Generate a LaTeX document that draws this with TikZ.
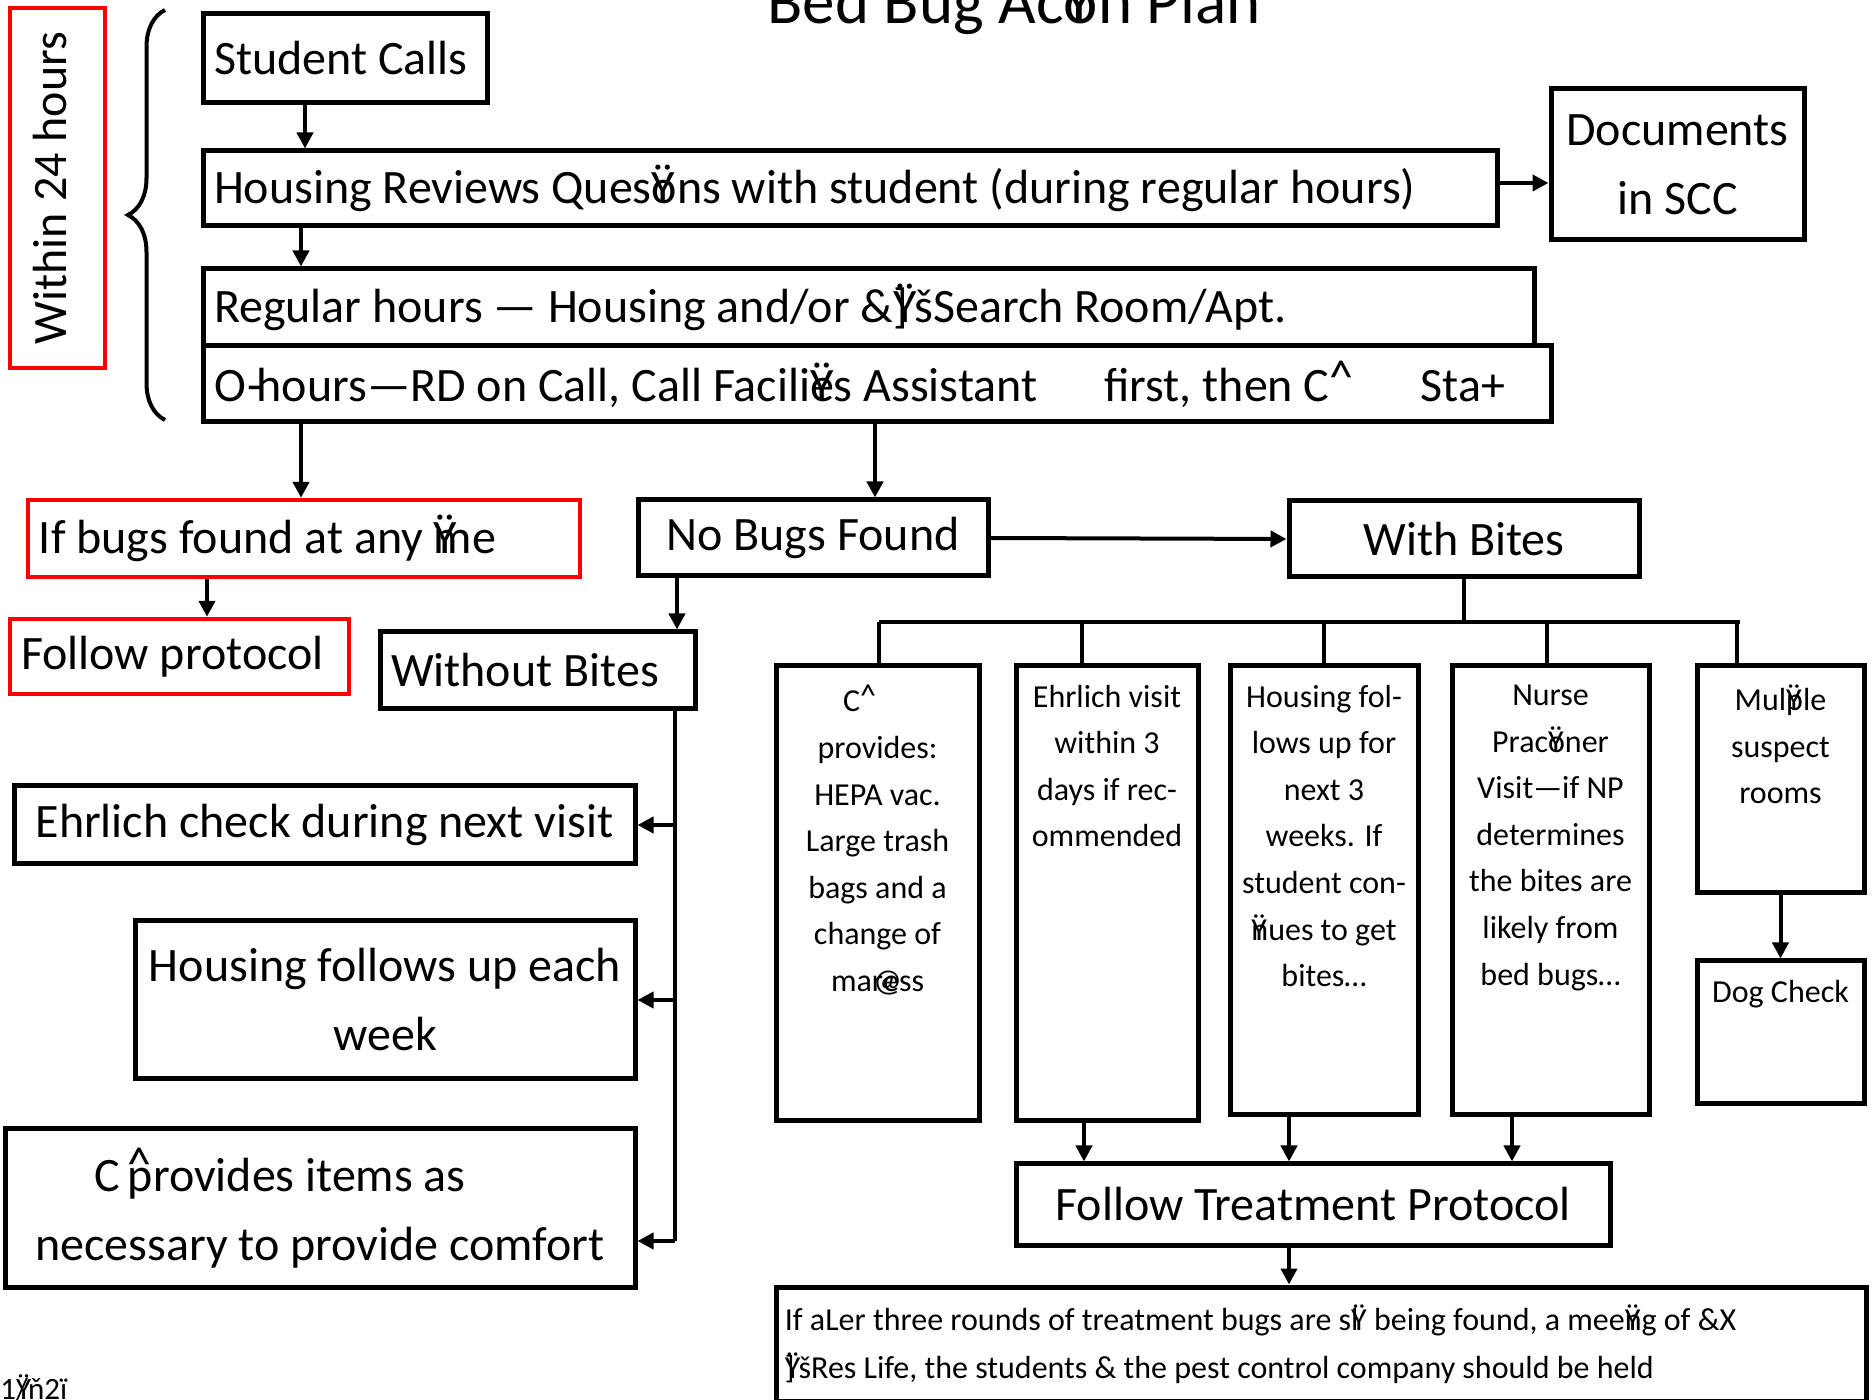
\documentclass[tikz,border=0pt]{standalone}
\usepackage{fontspec}
\setmainfont{Carlito}
\usepackage{tikz}
\usetikzlibrary{arrows.meta,decorations.pathreplacing}
\newcommand\zg[1]{\makebox[0pt][l]{#1}}
\newcommand\tiglyph{\zg{Ÿ}}
\newcommand\garb{\zg{]}Ÿš}
\newcommand\hatc{\raisebox{.35ex}{\textasciicircum}}

\begin{document}
\begin{tikzpicture}[x=0.5pt, y=-0.5pt,
    bigtxt/.style={font=\fontsize{24}{34.5}\selectfont},
    smalltxt/.style={font=\fontsize{16}{23.3}\selectfont},
    box/.style={draw, line width=2.5pt, inner sep=0pt, bigtxt},
    redbox/.style={draw=red, line width=2.2pt, inner sep=0pt, bigtxt},
    padl/.style={align=left, inner xsep=5.5pt, execute at begin node={\spaceskip0pt\xspaceskip0pt}},
    intext/.style={anchor=north, inner sep=0pt, smalltxt, align=center},
    link/.style={line width=2pt},
    arr/.style={link, -{Triangle[width=8pt,length=8pt]}}]
        \useasboundingbox (0,0) rectangle (1876,1400);
        \clip (0,0) rectangle (1876,1400);

        \node[anchor=base, font=\fontsize{32.5}{39}\selectfont] (title) at (1014,24) {Bed Bug Ac\tiglyph on Plan};
        \node[redbox, minimum width=47.5pt, minimum height=180pt] (w24) at (57.5,188) {};
        \node[rotate=90, bigtxt, inner sep=0pt] (w24t) at (50,188) {Within 24 hours};
        \draw[link, decorate, decoration={brace, amplitude=18.5pt}] (165,420) -- (165,10);   % brace

        \node[box, padl, minimum height=44.5pt, text width=131pt]   (calls)  at (345,58.5)   {Student Calls};
        \node[box, padl, minimum height=37.5pt, text width=636pt]   (review) at (850,188.5)  {Housing Reviews Ques\tiglyph ons with student (during regular hours)};
        \node[box, align=center, minimum width=126.5pt, minimum height=75.5pt] (scc) at (1677.5,164.5) {Documents\\in SCC};
        \node[box, padl, minimum height=38.5pt, text width=654.5pt] (reg)    at (868.5,307.5) {Regular hours — Housing and/or \&\garb{}Search Room/Apt.};
        \node[box, padl, minimum height=38pt, text width=663pt]     (off)    at (877,384)     {O \zg{\kern-.2em-}hours—RD on Call, Call Facili\tiglyph es Assistant\hspace{28pt} first, then C\hatc\hspace{28pt} Sta+};

        \node[redbox, padl, minimum height=38.5pt, text width=265pt]  (anytime)  at (304,538.5)   {If bugs found at any \tiglyph me};
        \node[redbox, padl, minimum height=37.5pt, text width=158.5pt] (protocol) at (179.5,656.5) {Follow protocol};
        \node[box, minimum width=175pt, minimum height=38pt]   (nobugs)  at (813,538)   {No Bugs Found};
        \node[box, minimum width=175pt, minimum height=38pt]   (bites)   at (1464,539)  {With Bites};
        \node[box, padl, minimum height=38.5pt, text width=146.5pt] (nobites) at (537.5,670.5) {Without Bites};

        % without bites
        \node[box, minimum width=310.5pt, minimum height=39pt] (ehrlich) at (324.5,825) {Ehrlich check during next visit};
        \node[box, align=center, minimum width=250pt, minimum height=79pt] (weekly) at (385,1000) {Housing follows up each\\week};
        \node[box, align=center, minimum width=315pt, minimum height=79pt] (comfort) at (320,1208) {C\,\zg{\raisebox{.5ex}{\textasciicircum}}provides items as\hspace*{40pt}\\necessary to provide comfort};

        % with bites
        \node[box, minimum width=101.5pt, minimum height=227.5pt] (supply) at (877.5,893.5)  {};
        \node[box, minimum width=91pt,    minimum height=227.5pt] (visit)  at (1107,893.5)   {};
        \node[box, minimum width=94pt,    minimum height=224.5pt] (follow) at (1324,890.5)   {};
        \node[box, minimum width=98.5pt,  minimum height=224.5pt] (nurse)  at (1550.5,890.5) {};
        \node[box, minimum width=83.5pt,  minimum height=113.5pt] (rooms)  at (1780.5,779.5) {};
        \node[box, minimum width=83.5pt,  minimum height=71.5pt]  (dog)    at (1780.5,1032.5) {};
        \node[intext] (supplyt) at ([yshift=-10.5pt]supply.north) {C\hatc\hspace*{18pt}\\provides:\\HEPA vac.\\Large trash\\bags and a\\change of\\mar\zg{\kern-.3em @}ess};
        \node[intext] (visitt)  at ([yshift=-10.5pt]visit.north)  {Ehrlich visit\\within 3\\days if rec-\\ommended};
        \node[intext] (followt) at ([yshift=-10.5pt]follow.north) {Housing fol-\\lows up for\\next 3\\weeks. If\\student con-\\\tiglyph nues to get\\bites…};
        \node[intext] (nurset)  at ([yshift=-10.5pt]nurse.north)  {Nurse\\Prac\tiglyph oner\hspace*{14pt}\\Visit—if NP\\determines\\the bites are\\likely from\\bed bugs…};
        \node[intext] (roomst)  at ([yshift=-10.5pt]rooms.north)  {Mul\tiglyph ple\\suspect\\rooms};
        \node[intext] (dogt)    at ([yshift=-10.5pt]dog.north)    {Dog Check};

        \node[box, minimum width=297pt, minimum height=40.5pt] (treat) at (1313,1204.5) {Follow Treatment Protocol};
        \node[box, minimum width=545pt, minimum height=57pt] (meeting) at (1321,1344) {};
        \node[intext, anchor=north west, align=left, font=\fontsize{16}{24}\selectfont] (meetingt) at ([xshift=5.5pt, yshift=-10pt]meeting.north west)
            {If aLer three rounds of treatment bugs are s\zg{l}Ÿ being found, a mee\zg{Ÿ}ng of \&X\\\garb{}Res Life, the students \& the pest control company should be held};
        \node[anchor=base west, inner sep=0pt, font=\fontsize{15.5}{18}\selectfont] (date) at (0,1399) {1\zg{Ÿ}/ň2ï};

        % connectors
        \draw[arr] (calls.south -| 305,0)   -- (review.north -| 305,0);
        \draw[arr] (review.east |- 0,183)   -- (scc.west |- 0,183);
        \draw[arr] (review.south -| 301,0)  -- (reg.north -| 301,0);
        \draw[arr] (off.south -| 301,0)     -- (anytime.north -| 301,0);
        \draw[arr] (off.south -| 875,0)     -- (nobugs.north -| 875,0);
        \draw[arr] (anytime.south -| 207,0) -- (protocol.north -| 207,0);
        \draw[arr] (nobugs.south -| 677,0)  -- (nobites.north -| 677,0);
        \draw[arr] (nobugs.east) -- (bites.west);

        \coordinate (busl) at (879,622);
        \coordinate (busr) at (1740,622);
        \draw[link] (bites.south) -- (bites.south |- busl);
        \draw[link] (busl) -- (busr);
        \foreach \b/\x in {supply/879, visit/1082, follow/1324, nurse/1547, rooms/1737}
            \draw[link] (\x,622) -- (\b.north -| \x,0);
        \foreach \b/\x in {visit/1084, follow/1289, nurse/1512}
            \draw[arr] (\b.south -| \x,0) -- (treat.north -| \x,0);
        \draw[arr] (treat.south -| 1289,0) -- (meeting.north -| 1289,0);
        \draw[arr] (rooms) -- (dog);

        \coordinate (spine) at (675,1241);
        \draw[link] (nobites.south -| spine) -- (spine);
        \draw[arr] (spine) -- (comfort.east |- spine);
        \draw[arr] (spine |- ehrlich.east) -- (ehrlich.east);
        \draw[arr] (spine |- weekly.east)  -- (weekly.east);
\end{tikzpicture}
\end{document}
